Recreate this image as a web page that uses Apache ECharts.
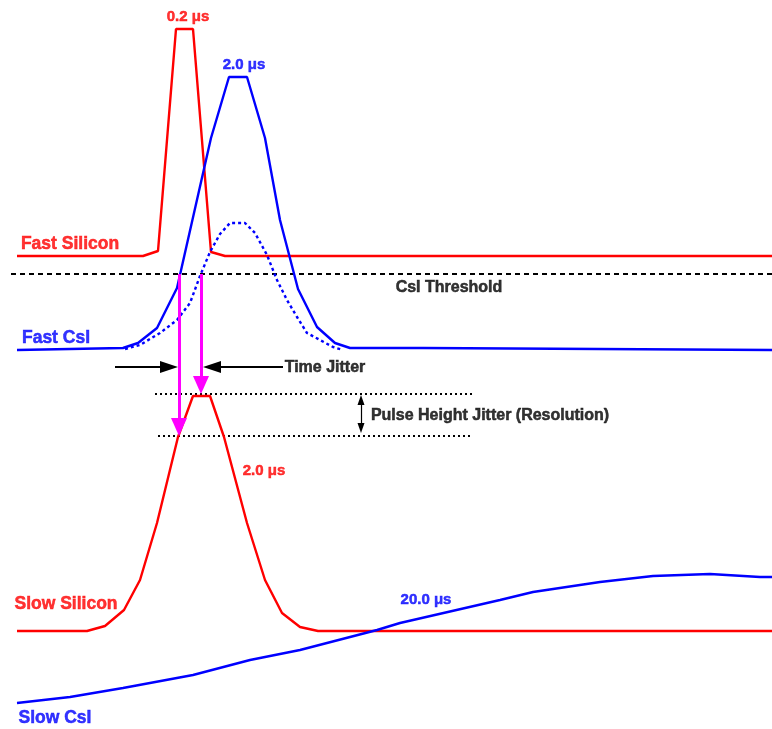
<!DOCTYPE html>
<html>
<head>
<meta charset="utf-8">
<script src="https://cdn.jsdelivr.net/npm/echarts@6/dist/echarts.min.js"></script>
<style>html,body{margin:0;padding:0;background:#fff}#c{width:772px;height:729px}</style>
</head>
<body>
<div id="c"></div>
<script>
// Schematic coordinates (x: time, y: drawing units, top = 0)
var fastSilicon = [[17,256],[143,256],[158,251],[176,29],[193,29],[211,252],[225,256],[772,256]];
var fastCsI = [[17,350],[123,348],[138,343],[157,328],[177,288],[211,138],[229,77],[247,77],[265,138],[280,220],[298,289],[317,327],[335,343],[350,348],[423,348],[772,350]];
var fastCsIScaled = [[125,349],[140,345],[160,333],[177,320],[190,303],[200,276],[210,252],[220,234],[230,223],[245,223],[255,233],[267,255],[277,280],[287,300],[297,317],[307,333],[320,340],[333,347],[343,350]];
var slowSilicon = [[17,631],[87,631],[105,626],[124,610],[140,580],[157,523],[178,437],[193,396],[210,396],[224,437],[247,523],[265,580],[282,613],[300,627],[318,631],[772,631]];
var slowCsI = [[17,703],[70,697],[123,688],[193,675],[250,660],[300,650],[377,630],[400,623],[500,600],[533,592],[600,582],[653,576],[710,574],[760,577],[772,577]];
var thresholdLine = [[11,274],[772,274]];
var jitterTop = [[155,394],[472,394]];
var jitterBottom = [[158,436],[472,436]];
// arrows: [fromX, fromY, tipX, tipY]
var magentaArrows = [[179,274,179,436],[201,274,201,394]];
var timeJitterArrows = [[115,367,178,367],[283,367,203,367]];
var heightJitterArrow = [361,395,361,433];
// labels: [x, y, text, colour, size]
var labels = [
  [70, 244, 'Fast Silicon', '#ff0000', 17.5],
  [56, 338, 'Fast CsI', '#0000ff', 17.5],
  [66, 604, 'Slow Silicon', '#ff0000', 17.5],
  [55, 718, 'Slow CsI', '#0000ff', 17.5],
  [188, 17, '0.2 \u03bcs', '#ff0000', 15],
  [244, 65, '2.0 \u03bcs', '#0000ff', 15],
  [264, 471, '2.0 \u03bcs', '#ff0000', 15],
  [426, 600, '20.0 \u03bcs', '#0000ff', 15],
  [449, 288, 'CsI Threshold', '#000000', 16],
  [325, 368, 'Time Jitter', '#000000', 16],
  [490, 416, 'Pulse Height Jitter (Resolution)', '#000000', 16]
];

function arrowItem(a, headLen, bothEnds) {
  var dx = a[2]-a[0], dy = a[3]-a[1], L = Math.sqrt(dx*dx+dy*dy);
  var ux = dx/L, uy = dy/L, h = headLen/2;
  var from = bothEnds ? [a[0]+ux*h, a[1]+uy*h] : [a[0], a[1]];
  var to = [a[2]-ux*h, a[3]-uy*h];
  return [{coord: from}, {coord: to}];
}

function lineSeries(data, color, width, type) {
  return {
    type: 'line', data: data, showSymbol: false, symbol: 'none', silent: true,
    animation: false, lineStyle: {color: color, width: width, type: type || 'solid'}
  };
}

function arrowSeries(items, color, width, symbols, size) {
  return {
    type: 'line', data: [], silent: true, animation: false,
    markLine: {
      silent: true, animation: false, symbol: symbols, symbolSize: size,
      label: {show: false}, emphasis: {disabled: true},
      lineStyle: {color: color, width: width, type: 'solid'},
      itemStyle: {color: color},
      data: items
    }
  };
}

var chart = echarts.init(document.getElementById('c'));
chart.setOption({
  backgroundColor: '#ffffff',
  animation: false,
  grid: {left: 0, right: 0, top: 0, bottom: 0},
  xAxis: {type: 'value', min: 0, max: 772, show: false},
  yAxis: {type: 'value', min: 0, max: 729, inverse: true, show: false},
  series: [
    lineSeries(thresholdLine, '#000000', 2, [5,4]),
    lineSeries(jitterTop, '#000000', 2, [2,3]),
    lineSeries(jitterBottom, '#000000', 2, [2,3]),
    lineSeries(fastSilicon, '#ff0000', 2.4),
    lineSeries(fastCsIScaled, '#0000ff', 2.4, [3,3]),
    lineSeries(fastCsI, '#0000ff', 2.4),
    lineSeries(slowSilicon, '#ff0000', 2.4),
    lineSeries(slowCsI, '#0000ff', 2.4),
    arrowSeries(magentaArrows.map(function(a){return arrowItem(a, 18, false);}), '#ff00ff', 3, ['none','triangle'], [16,18]),
    arrowSeries(timeJitterArrows.map(function(a){return arrowItem(a, 18, false);}), '#000000', 2, ['none','triangle'], [12,18]),
    arrowSeries([arrowItem(heightJitterArrow, 10, true)], '#000000', 1.2, ['triangle','triangle'], [7,10]),
    {
      type: 'scatter', silent: true, animation: false, symbolSize: 1,
      itemStyle: {color: 'rgba(0,0,0,0)'},
      data: labels.map(function(l){
        return {
          value: [l[0], l[1]],
          label: {
            show: true, position: 'inside', formatter: l[2], color: l[3],
            textBorderWidth: 0.5, textBorderColor: l[3], textShadowBlur: 0,
            fontSize: l[4], fontWeight: 'bold', fontFamily: 'Liberation Sans, Arial, sans-serif'
          }
        };
      })
    }
  ]
});
</script>
</body>
</html>
